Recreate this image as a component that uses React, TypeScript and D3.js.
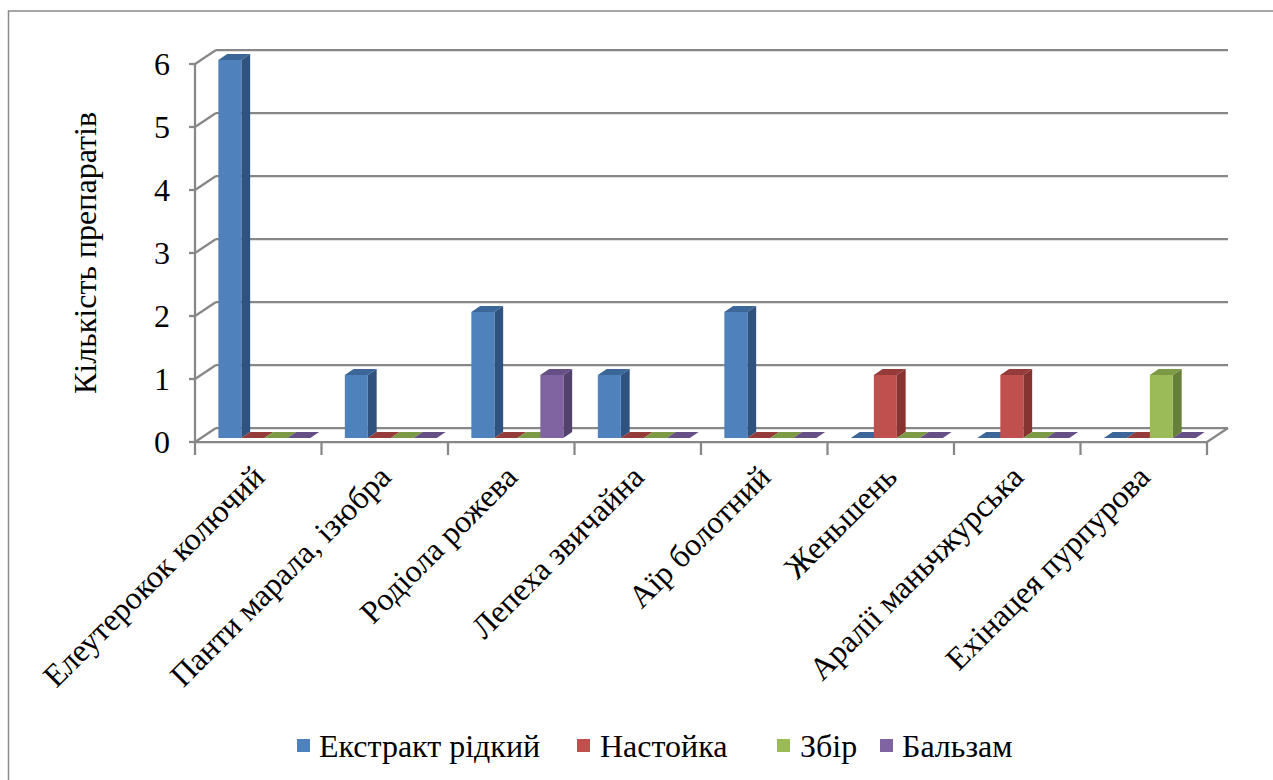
import React from 'react';
import * as d3 from 'd3';

const categories = [
  'Елеутерокок колючий',
  'Панти марала, ізюбра',
  'Родіола рожева',
  'Лепеха звичайна',
  'Аїр болотний',
  'Женьшень',
  'Аралії маньчжурська',
  'Ехінацея пурпурова',
];
const seriesNames = ['Екстракт рідкий', 'Настойка', 'Збір', 'Бальзам'];
const extractValues = [6, 1, 2, 1, 2, 0, 0, 0];
const tinctureValues = [0, 0, 0, 0, 0, 1, 1, 0];
const collectionValues = [0, 0, 0, 0, 0, 0, 0, 1];
const balsamValues = [0, 0, 1, 0, 0, 0, 0, 0];
const yTicks = [0, 1, 2, 3, 4, 5, 6];
const yLabel = 'Кількість препаратів';

const seriesValues = [extractValues, tinctureValues, collectionValues, balsamValues];
const frontColors = ['#4F81BD', '#C0504D', '#9BBB59', '#8064A2'];
const topColors = ['#3C6598', '#953B39', '#7C9946', '#654F84'];
const sideColors = ['#30527E', '#853432', '#66803A', '#54426E'];

const W = 1273;
const H = 780;
const FONT = 'Liberation Serif, DejaVu Serif, serif';
const FS = 32;
const GRID = '#878787';
const textStyle: React.CSSProperties = { fontFamily: FONT, fontSize: FS };

// 3D layout
const X0 = 195;
const X1 = 1207;
const Y0 = 442;
const YTOP = 64;
const DX = 21;
const DY = -14;
const T_FRONT = 0.29;
const T_BACK = 0.71;

const legendSquareX = [297, 577, 777, 880];
const legendTextX = [319, 600, 800, 902];

export default function App() {
  const x = d3.scaleBand<string>().domain(categories).range([X0, X1]).padding(0);
  const inner = d3
    .scaleBand<string>()
    .domain(seriesNames)
    .range([0, x.bandwidth()])
    .paddingInner(0)
    .paddingOuter(0.75);
  const y = d3.scaleLinear().domain([0, 6]).range([Y0, YTOP]);

  const p = (px: number, py: number, t: number) => [px + DX * t, py + DY * t];
  const pts = (arr: number[][]) => arr.map((a) => a.join(',')).join(' ');

  const bars: React.ReactNode[] = [];
  categories.forEach((c, ci) => {
    seriesNames.forEach((s, si) => {
      const v = seriesValues[si][ci];
      const xl = (x(c) as number) + (inner(s) as number);
      const xr = xl + inner.bandwidth();
      const yb = y(0);
      const yt = y(v);
      const fbl = p(xl, yb, T_FRONT);
      const fbr = p(xr, yb, T_FRONT);
      const ftl = p(xl, yt, T_FRONT);
      const ftr = p(xr, yt, T_FRONT);
      const bbr = p(xr, yb, T_BACK);
      const btl = p(xl, yt, T_BACK);
      const btr = p(xr, yt, T_BACK);
      const key = `${ci}-${si}`;
      if (v > 0) {
        bars.push(<polygon key={key + 's'} points={pts([fbr, bbr, btr, ftr])} fill={sideColors[si]} />);
      }
      bars.push(<polygon key={key + 't'} points={pts([ftl, ftr, btr, btl])} fill={topColors[si]} />);
      if (v > 0) {
        bars.push(<polygon key={key + 'f'} points={pts([fbl, fbr, ftr, ftl])} fill={frontColors[si]} />);
      }
    });
  });

  return (
    <svg width={W} height={H} style={{ position: 'absolute', left: 0, top: 0, background: '#fff' }}>
      <rect x={0} y={0} width={W} height={H} fill="#fff" />
      <rect x={8.5} y={11} width={1300} height={800} fill="none" stroke="#8a8a8a" strokeWidth={1.5} />

      {/* back wall gridlines and side wall lines */}
      {yTicks.map((t) => {
        const [bx0, by] = p(X0, y(t), 1);
        const [bx1] = p(X1, y(t), 1);
        return (
          <g key={'g' + t}>
            <line x1={X0} y1={y(t)} x2={bx0} y2={by} stroke={GRID} strokeWidth={2.25} />
            <line x1={bx0} y1={by} x2={bx1} y2={by} stroke={GRID} strokeWidth={2.25} />
          </g>
        );
      })}

      {/* floor */}
      <line x1={X0} y1={Y0} x2={X1} y2={Y0} stroke={GRID} strokeWidth={2.25} />
      <line x1={X1} y1={Y0} x2={X1 + DX} y2={Y0 + DY} stroke={GRID} strokeWidth={2.25} />

      {/* y axis */}
      <line x1={X0} y1={y(6)} x2={X0} y2={Y0} stroke={GRID} strokeWidth={2.25} />
      {yTicks.map((t) => (
        <g key={'yt' + t}>
          <line x1={X0 - 6} y1={y(t)} x2={X0} y2={y(t)} stroke={GRID} strokeWidth={2.25} />
          <text x={170} y={y(t)} dy="0.35em" textAnchor="end" style={textStyle} fill="#000">
            {t}
          </text>
        </g>
      ))}

      {/* category ticks */}
      {d3.range(categories.length + 1).map((i) => {
        const xx = X0 + i * x.step();
        return <line key={'ct' + i} x1={xx} y1={Y0} x2={xx} y2={Y0 + 13} stroke={GRID} strokeWidth={2.25} />;
      })}

      {bars}

      {/* category labels */}
      {categories.map((c) => {
        const cx = (x(c) as number) + x.bandwidth() / 2 + 8;
        return (
          <text
            key={'cl' + c}
            transform={`translate(${cx},${479}) rotate(-45)`}
            textAnchor="end"
            style={textStyle}
            fill="#000"
          >
            {c}
          </text>
        );
      })}

      {/* y label */}
      <text transform="translate(96,253) rotate(-90)" textAnchor="middle" style={textStyle} fill="#000">
        {yLabel}
      </text>

      {/* legend */}
      {seriesNames.map((s, i) => (
        <g key={'lg' + s}>
          <rect x={legendSquareX[i]} y={739} width={13} height={13} fill={frontColors[i]} />
          <text x={legendTextX[i]} y={757} style={textStyle} fill="#000">
            {s}
          </text>
        </g>
      ))}
    </svg>
  );
}
